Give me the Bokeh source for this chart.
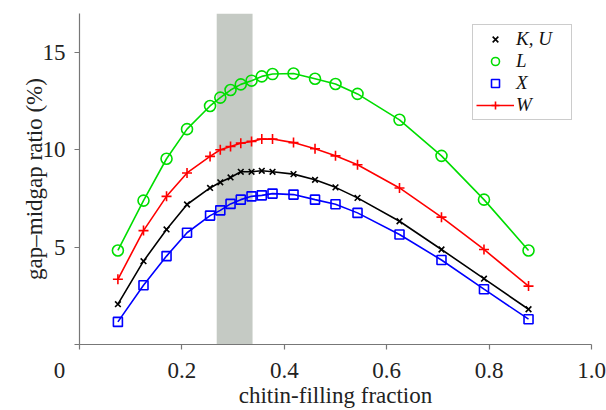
from bokeh.plotting import figure
from bokeh.models import Range1d, Legend, LegendItem, FixedTicker
from bokeh.embed import file_html
from bokeh.resources import INLINE

# ---- data ----
fraction = [0.075, 0.125, 0.17, 0.21, 0.255, 0.275, 0.295, 0.315, 0.336, 0.356,
            0.377, 0.418, 0.46, 0.50, 0.543, 0.625, 0.707, 0.79, 0.877]
gap_KU = [2.07, 4.28, 5.91, 7.19, 8.04, 8.33, 8.58, 8.87, 8.87, 8.92,
          8.87, 8.75, 8.46, 8.07, 7.53, 6.33, 4.88, 3.38, 1.81]
gap_L = [4.83, 7.39, 9.54, 11.06, 12.25, 12.68, 13.07, 13.36, 13.55, 13.77,
         13.89, 13.92, 13.65, 13.38, 12.87, 11.54, 9.69, 7.44, 4.83]
gap_X = [1.16, 3.04, 4.54, 5.74, 6.62, 6.89, 7.22, 7.44, 7.61, 7.66,
         7.75, 7.70, 7.44, 7.20, 6.76, 5.65, 4.34, 2.84, 1.30]
gap_W = [3.35, 5.85, 7.61, 8.81, 9.66, 10.00, 10.17, 10.34, 10.43, 10.55,
         10.55, 10.37, 10.05, 9.69, 9.23, 8.04, 6.54, 4.88, 3.00]
band_left = [0.268]
band_right = [0.338]
x_ticks = [0, 0.2, 0.4, 0.6, 0.8, 1.0]
# the origin "0" sits left of the axis corner; padded so it shifts left
x_tick_labels = ["0" + "\u00a0" * 7, "0.2", "0.4", "0.6", "0.8", "1.0"]
y_ticks = [0, 5, 10, 15]
y_tick_labels = ["", "5", "10", "15"]
series_names = ["K, U", "L", "X", "W"]

FONT = "Liberation Serif"
FS = "23px"

p = figure(width=606, height=410, output_backend="svg", toolbar_location=None,
           x_range=Range1d(0, 1.0), y_range=Range1d(0, 17),
           min_border_left=79, min_border_right=15, min_border_top=13,
           min_border_bottom=64)
p.outline_line_color = None
p.xgrid.visible = False
p.ygrid.visible = False
p.background_fill_color = "white"
p.border_fill_color = "white"

# shaded band
p.quad(left=band_left, right=band_right, bottom=[0], top=[17],
       fill_color="#c5cac4", line_color=None)

kw = dict(line_width=1.6)
l_ku = p.line(fraction, gap_KU, line_color="black", **kw)
s_ku = p.scatter(fraction, gap_KU, marker="x", size=8, line_color="black", line_width=1.6)
l_l = p.line(fraction, gap_L, line_color="#00dd00", **kw)
s_l = p.scatter(fraction, gap_L, marker="circle", size=11, line_color="#00dd00",
                fill_color=None, line_width=1.6)
l_x = p.line(fraction, gap_X, line_color="#0000ff", **kw)
s_x = p.scatter(fraction, gap_X, marker="square", size=9, line_color="#0000ff",
                fill_color=None, line_width=1.6)
l_w = p.line(fraction, gap_W, line_color="#ff0000", **kw)
s_w = p.scatter(fraction, gap_W, marker="cross", size=10, line_color="#ff0000", line_width=1.6)

# axes
for ax in (p.xaxis[0], p.yaxis[0]):
    ax.axis_line_color = "#777777"
    ax.major_tick_line_color = "#777777"
    ax.axis_line_width = 1.2
    ax.major_tick_line_width = 1.2
    ax.minor_tick_line_color = None
    ax.major_tick_out = 5
    ax.major_tick_in = 0
    ax.major_label_text_font = FONT
    ax.major_label_text_font_size = FS
    ax.major_label_text_color = "#222222"
    ax.axis_label_text_font = FONT
    ax.axis_label_text_font_size = FS
    ax.axis_label_text_font_style = "normal"
    ax.axis_label_text_color = "#222222"

p.xaxis.ticker = FixedTicker(ticks=x_ticks)
p.xaxis.major_label_overrides = dict(zip(x_ticks, x_tick_labels))
p.yaxis.ticker = FixedTicker(ticks=y_ticks)
p.yaxis.major_label_overrides = dict(zip(y_ticks, y_tick_labels))
p.xaxis.axis_label = "chitin-filling fraction"
p.yaxis.axis_label = "gap\u2013midgap ratio (%)"
p.xaxis.major_label_standoff = 8
p.xaxis.axis_label_standoff = -3
p.yaxis.major_label_standoff = 9
p.yaxis.axis_label_standoff = -7

legend = Legend(items=[
    LegendItem(label=series_names[0], renderers=[s_ku]),
    LegendItem(label=series_names[1], renderers=[s_l]),
    LegendItem(label=series_names[2], renderers=[s_x]),
    LegendItem(label=series_names[3], renderers=[l_w, s_w]),
], location=(393, 224))
legend.label_text_font = FONT
legend.label_text_font_style = "italic"
legend.label_text_font_size = "19px"
legend.label_text_color = "#111111"
legend.glyph_width = 38
legend.glyph_height = 20
legend.label_height = 20
legend.label_width = 52
legend.label_standoff = 2
legend.spacing = 0
legend.padding = 3
legend.margin = 0
legend.border_line_color = "#999999"
legend.border_line_width = 1.5
legend.background_fill_alpha = 1.0
p.add_layout(legend)

open("out.html", "w").write(file_html(p, INLINE))
